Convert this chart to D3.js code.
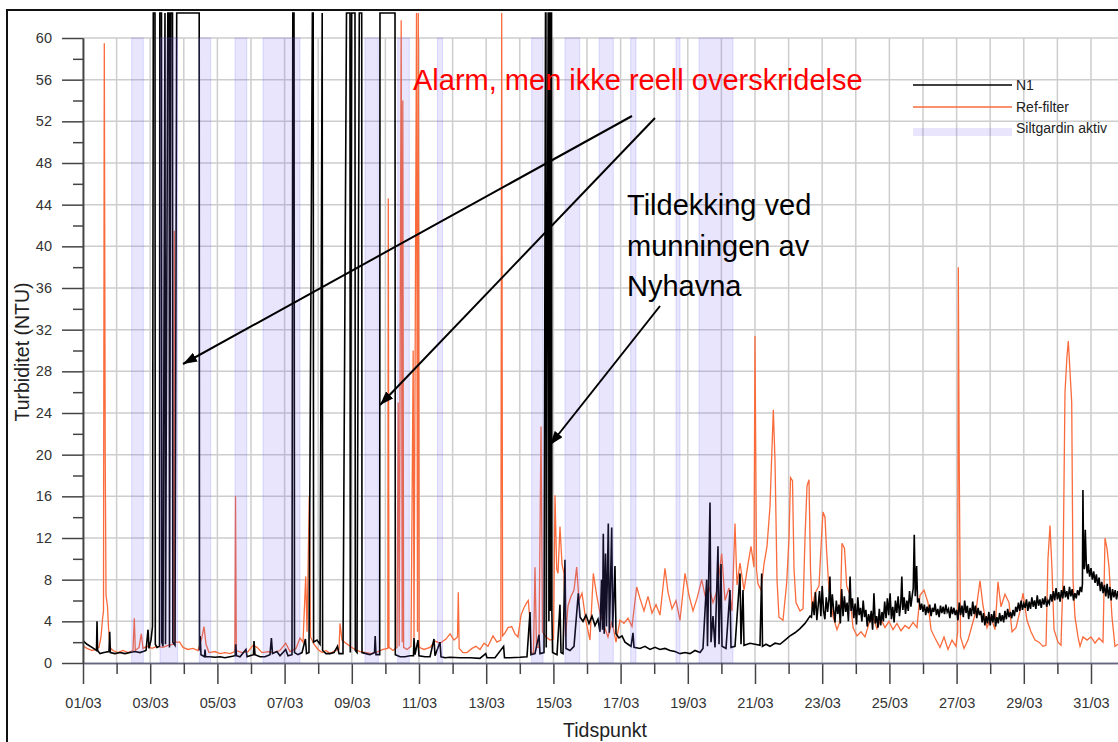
<!DOCTYPE html>
<html lang="no">
<head>
<meta charset="UTF-8">
<title>Turbiditet N1 / Ref-filter, mars</title>
<script src="https://cdnjs.cloudflare.com/ajax/libs/d3/7.8.5/d3.min.js"></script>
<style>
body { margin: 0; background: #fff; }
svg { display: block; font-family: "Liberation Sans", Arial, sans-serif; }
.axis text { font-size: 14.5px; fill: #333; }
.axis path, .axis line { stroke: #444; stroke-width: 1.5; }
.xaxis path { stroke: #66667f; }
.grid line { stroke: #cdcdcd; stroke-width: 1.5; }
</style>
</head>
<body>
<svg id="chart" width="1118" height="742"></svg>
<script>
// tick values (day of March) and turbidity ticks
const majorDays = [1, 3, 5, 7, 9, 11, 13, 15, 17, 19, 21, 23, 25, 27, 29, 31];
const minorDays = [2, 4, 6, 8, 10, 12, 14, 16, 18, 20, 22, 24, 26, 28, 30, 32];
const yMajor = [0, 4, 8, 12, 16, 20, 24, 28, 32, 36, 40, 44, 48, 52, 56, 60];
const yMinor = [2, 6, 10, 14, 18, 22, 26, 30, 34, 38, 42, 46, 50, 54, 58];

// periods with siltgardin active [start day, end day]
const siltgardin = [[2.449, 2.795], [3.292, 3.815], [4.461, 4.80], [5.524, 5.872], [6.357, 7.458],
  [9.393, 9.789], [10.366, 10.711], [11.55, 11.70], [14.354, 14.69], [15.345, 15.78],
  [16.363, 16.783], [17.30, 17.458], [18.649, 18.768], [19.333, 20.345]];

// N1 (black), [day, NTU]; 62.4 = logger ceiling
const n1 = [
  [1.015,2.1],[1.119,1.8],[1.268,1.5],[1.357,1.3],[1.402,1.2],[1.417,4.0],[1.435,1.2],[1.506,0.9],[1.625,1.0],
  [1.774,1.1],[1.795,3.0],[1.815,1.0],[1.952,0.9],[2.101,1.0],[2.25,0.9],[2.399,1.0],[2.548,1.1],[2.696,1.0],
  [2.875,1.2],[2.935,3.2],[2.964,1.4],[3.024,2.2],[3.068,3.5],
  [3.092,62.4],[3.143,62.4],[3.152,1.8],[3.202,1.5],[3.277,1.6],[3.286,62.4],[3.336,62.4],[3.345,2.0],[3.381,1.6],
  [3.440,62.4],[3.455,1.8],[3.524,62.4],[3.565,62.4],[3.574,1.5],[3.613,62.4],[3.664,62.4],[3.673,2.0],[3.738,1.7],
  [3.789,62.4],[4.458,62.4],[4.467,1.2],[4.488,2.6],[4.512,0.8],
  [4.616,0.6],[4.631,1.3],[4.649,0.6],[4.780,0.6],[4.929,0.55],[5.077,0.6],[5.226,0.5],[5.375,0.6],[5.530,0.7],
  [5.545,1.8],[5.568,0.7],[5.673,0.6],[5.851,1.3],[5.881,0.6],[5.970,0.7],[6.074,0.8],[6.089,2.1],[6.119,0.8],
  [6.268,0.6],[6.417,0.6],[6.565,0.8],[6.607,2.4],[6.640,0.9],[6.768,1.1],[6.863,0.7],[7.033,1.3],[7.101,0.7],
  [7.220,0.8],[7.244,62.4],[7.280,62.4],[7.295,1.0],[7.399,0.8],[7.518,1.0],[7.619,2.3],[7.652,0.9],[7.726,1.0],
  [7.827,62.4],[7.851,62.4],[7.863,2.0],[7.964,2.2],[8.054,1.8],[8.119,62.4],[8.131,1.2],[8.232,0.9],[8.351,0.9],
  [8.470,1.0],[8.574,1.6],[8.619,0.9],[8.738,0.9],[8.842,62.4],[8.946,62.4],[8.955,1.0],[8.997,62.4],[9.095,62.4],
  [9.104,1.2],[9.155,1.0],[9.223,62.4],[9.295,62.4],[9.304,1.0],[9.423,0.9],[9.542,0.8],[9.676,1.0],[9.696,2.6],
  [9.720,0.8],[9.830,0.8],[9.839,62.4],[10.286,62.4],[10.295,0.8],[10.435,0.6],[10.583,0.6],[10.732,0.7],
  [10.836,0.7],[10.851,2.4],[10.881,0.8],[10.970,2.2],[11.0,0.7],[11.179,0.6],[11.328,0.6],[11.446,2.3],
  [11.476,0.7],[11.625,2.0],[11.655,0.6],[11.774,0.5],[11.923,0.55],[12.220,0.5],[12.518,0.5],[12.815,0.45],
  [12.985,0.9],[13.024,0.5],[13.262,0.5],[13.518,1.6],[13.545,0.5],[13.708,0.5],[14.006,0.55],[14.214,0.6],
  [14.304,4.9],[14.333,0.8],[14.452,0.9],[14.571,2.7],[14.601,0.9],[14.720,1.0],
  [14.765,62.4],[14.778,62.4],[14.787,1.5],[14.845,62.4],[14.858,62.4],[14.866,4.0],[14.885,62.4],[14.905,62.4],
  [14.912,5.0],[14.930,62.4],[14.945,62.4],[14.955,4.8],[14.975,1.0],
  [15.107,0.8],[15.196,5.6],[15.226,1.0],[15.286,0.9],[15.345,9.9],[15.375,1.4],[15.494,1.2],[15.613,1.6],
  [15.741,6.7],[15.792,4.4],[15.881,4.0],[15.970,4.6],[16.060,3.8],[16.149,4.5],[16.238,3.6],[16.327,4.2],
  [16.387,3.0],[16.432,8.0],[16.461,3.2],[16.485,12.4],[16.512,2.8],[16.551,10.5],[16.580,3.5],[16.634,13.4],
  [16.664,2.9],[16.699,7.5],[16.735,13.0],[16.765,3.4],[16.833,9.3],[16.863,2.8],[16.952,2.4],[17.042,2.6],
  [17.131,2.0],[17.220,1.8],[17.310,1.6],[17.369,2.9],[17.399,1.5],[17.577,1.4],[17.726,1.6],[17.875,1.3],
  [18.024,1.5],[18.173,1.3],[18.321,1.4],[18.470,1.2],[18.619,1.1],[18.768,0.9],[18.917,1.0],[19.065,0.9],
  [19.214,1.2],[19.363,1.0],[19.452,1.4],[19.562,8.0],[19.586,1.6],[19.661,15.4],[19.690,2.0],[19.750,4.5],
  [19.810,1.5],[19.899,11.2],[19.929,1.8],[19.988,9.5],[20.018,1.6],[20.137,1.4],[20.256,7.0],[20.286,1.5],
  [20.405,1.6],[20.554,8.6],[20.583,1.8],[20.643,7.0],[20.673,1.7],[20.851,1.9],[21.0,1.8],[21.149,1.7],
  [21.199,8.6],[21.223,1.6],[21.327,1.8],[21.446,1.6],[21.595,1.9],[21.744,1.8],[21.893,2.2],[22.042,2.6],
  [22.190,2.9],[22.339,3.3],[22.488,3.8],[22.637,4.5],
  [22.68,4.4],[22.72,5.9],[22.76,4.6],[22.80,6.8],[22.84,4.1],[22.88,5.5],[22.92,6.9],[22.96,4.5],[23.00,7.4],
  [23.04,5.0],[23.08,4.2],[23.12,6.3],[23.16,4.9],[23.20,6.1],[23.23,8.3],[23.26,4.4],[23.30,6.6],[23.34,5.1],
  [23.38,3.9],[23.42,6.0],[23.46,4.7],[23.50,5.6],[23.54,3.8],[23.58,7.1],[23.62,4.5],[23.66,6.4],[23.70,4.9],
  [23.74,5.8],[23.78,4.0],[23.83,8.3],[23.86,5.0],[23.90,6.2],[23.94,4.3],[23.98,5.7],[24.02,3.7],[24.06,6.3],
  [24.10,4.6],[24.14,5.3],[24.18,4.0],[24.22,6.0],[24.26,4.4],[24.30,5.1],[24.34,3.5],[24.38,4.7],[24.42,3.9],
  [24.46,5.0],[24.50,3.2],[24.54,6.7],[24.58,3.8],[24.62,4.5],[24.66,3.4],[24.70,5.2],[24.74,3.6],[24.78,4.9],
  [24.82,4.0],[24.86,5.9],[24.90,4.3],[24.94,6.2],[24.98,4.6],[25.02,6.7],[25.06,4.2],[25.10,5.4],[25.14,3.9],
  [25.18,6.0],[25.22,4.8],[25.26,6.4],[25.30,4.5],[25.34,5.8],[25.37,8.3],[25.40,5.1],[25.44,6.3],[25.48,4.7],
  [25.52,6.0],[25.56,5.0],[25.60,6.9],[25.64,5.4],[25.68,6.5],[25.71,7.2],[25.74,12.3],[25.77,6.4],[25.81,9.3],
  [25.84,5.8],[25.88,6.2],[25.92,5.1],[25.96,5.7],[26.00,4.9],[26.04,5.6],[26.08,4.6],[26.12,5.4],[26.16,4.8],
  [26.20,5.6],[26.24,4.5],[26.28,5.3],[26.32,4.9],[26.36,5.7],[26.40,4.6],[26.44,5.2],[26.48,4.4],[26.52,5.5],
  [26.56,4.8],[26.60,5.4],[26.64,4.7],[26.68,5.6],[26.72,4.9],[26.76,5.2],[26.80,4.3],[26.84,5.4],[26.88,4.7],
  [26.92,5.3],[26.96,4.6],[27.00,5.1],[27.04,4.1],[27.08,5.8],[27.12,4.6],[27.16,5.5],[27.20,4.4],[27.24,6.0],
  [27.28,4.8],[27.32,5.5],[27.36,4.2],[27.40,5.3],[27.44,4.5],[27.48,5.9],[27.52,4.7],[27.56,5.5],[27.60,4.3],
  [27.64,5.3],[27.68,4.6],[27.72,5.0],[27.76,3.9],[27.80,4.8],[27.84,3.6],[27.88,4.5],[27.92,3.8],[27.96,4.9],
  [28.00,3.6],[28.04,4.7],[28.08,3.9],[28.12,5.0],[28.16,3.5],[28.20,4.4],[28.24,3.8],[28.28,4.8],[28.32,4.0],
  [28.36,4.6],[28.40,3.9],[28.44,5.0],[28.48,4.2],[28.52,5.2],[28.56,4.4],[28.60,4.9],[28.64,4.3],[28.68,5.1],
  [28.72,4.5],[28.76,5.4],[28.80,4.9],[28.84,5.8],[28.88,5.0],[28.92,6.0],[28.96,5.1],[29.00,5.7],[29.04,5.3],
  [29.08,6.1],[29.12,5.0],[29.16,5.9],[29.20,5.2],[29.24,6.3],[29.28,5.4],[29.32,6.0],[29.36,5.2],[29.40,6.5],
  [29.44,5.5],[29.48,6.1],[29.52,5.3],[29.56,6.2],[29.60,5.6],[29.64,6.4],[29.68,5.4],[29.72,6.0],[29.76,5.7],
  [29.80,6.6],[29.84,5.9],[29.88,6.9],[29.92,6.0],[29.96,7.2],[30.00,6.1],[30.04,6.8],[30.08,5.9],[30.12,7.0],
  [30.16,6.2],[30.20,7.4],[30.24,6.3],[30.28,6.9],[30.32,6.1],[30.36,7.3],[30.40,6.4],[30.44,7.1],[30.48,6.0],
  [30.52,6.7],[30.56,6.2],[30.60,7.0],[30.64,6.5],[30.68,7.3],[30.72,6.8],[30.745,7.6],[30.76,16.6],[30.78,10.0],
  [30.80,9.0],[30.83,12.8],[30.86,9.4],[30.89,8.6],[30.92,9.5],[30.96,8.3],[31.00,9.1],[31.04,8.0],[31.08,8.8],
  [31.12,7.7],[31.16,8.5],[31.20,7.4],[31.24,8.2],[31.28,6.9],[31.32,7.8],[31.36,6.7],[31.40,7.5],[31.44,6.4],
  [31.48,7.6],[31.52,6.2],[31.56,7.3],[31.60,6.0],[31.64,7.1],[31.68,6.3],[31.72,7.0],[31.76,6.1],[31.80,6.9],
  [31.84,6.5]
];

// Ref-filter (orange), [day, NTU]
const refFilter = [
  [1.015,1.6],[1.119,1.4],[1.268,1.2],[1.387,1.3],[1.476,1.5],[1.536,2.5],[1.580,4.2],[1.610,5.0],[1.634,59.5],
  [1.661,20],[1.685,6.5],[1.729,5.4],[1.759,3.4],[1.804,1.5],[1.893,1.2],[2.042,1.0],[2.190,1.2],[2.339,1.0],
  [2.488,1.2],[2.527,4.3],[2.557,1.2],[2.667,1.5],[2.735,2.8],[2.786,1.4],[2.905,1.6],[3.054,1.4],[3.202,1.6],
  [3.381,1.5],[3.530,1.7],[3.696,1.8],[3.717,41.5],[3.744,2.0],[3.878,2.0],[3.976,1.5],[4.125,1.3],[4.274,1.4],
  [4.423,1.2],[4.542,2.5],[4.601,3.5],[4.661,1.8],[4.750,1.0],[4.929,1.1],[5.077,0.9],[5.226,1.0],[5.375,0.9],
  [5.518,1.1],[5.539,16],[5.563,1.2],[5.732,1.0],[5.911,1.1],[6.060,1.7],[6.179,1.5],[6.327,1.0],[6.506,1.1],
  [6.685,1.0],[6.863,1.2],[7.033,1.9],[7.161,1.1],[7.339,1.4],[7.458,2.4],[7.548,2.0],[7.628,8.3],[7.667,3.0],
  [7.735,16],[7.771,2.5],[7.875,1.8],[7.994,1.3],[8.113,1.0],[8.232,1.2],[8.351,0.9],[8.5,1.2],[8.619,1.3],
  [8.649,3.8],[8.708,2.2],[8.827,1.9],[8.946,1.6],[9.095,1.3],[9.244,1.1],[9.423,1.0],[9.601,0.9],[9.780,1.1],
  [9.929,1.3],[10.071,1.4],[10.086,44.6],[10.107,1.5],[10.226,1.2],[10.345,1.5],[10.381,25],[10.411,1.6],
  [10.470,61.7],[10.500,2.0],[10.518,54],[10.542,1.5],[10.643,1.3],[10.762,1.6],[10.827,30],[10.851,2.4],
  [10.926,62.4],[10.955,3.0],[10.979,62.4],[11.006,1.5],[11.149,1.3],[11.327,1.5],[11.476,2.1],[11.625,1.9],
  [11.804,2.3],[11.923,2.8],[12.042,2.2],[12.146,2.5],[12.170,6.8],[12.196,1.4],[12.310,1.0],[12.429,1.0],
  [12.577,1.4],[12.696,1.6],[12.815,1.3],[12.935,1.9],[13.054,1.6],[13.202,2.6],[13.321,2.0],[13.435,2.2],
  [13.461,62.4],[13.488,2.6],[13.560,2.9],[13.649,3.4],[13.759,3.5],[13.857,2.8],[13.946,2.5],[14.036,4.6],
  [14.125,5.3],[14.205,5.8],[14.253,6.0],[14.304,4.0],[14.333,0.9],[14.408,1.0],[14.452,9.2],[14.497,1.5],
  [14.571,1.5],[14.631,22.7],[14.676,3.0],[14.780,2.5],[14.899,2.2],[15.003,2.3],[15.048,16.1],[15.098,9.0],
  [15.137,8.6],[15.196,13.1],[15.256,9.5],[15.315,8.6],[15.360,2.5],[15.435,5.5],[15.524,6.4],[15.613,7.0],
  [15.693,9.2],[15.762,6.0],[15.851,6.7],[15.970,4.0],[16.089,2.2],[16.188,8.6],[16.289,6.5],[16.387,4.8],
  [16.506,3.6],[16.625,2.5],[16.744,4.0],[16.863,2.0],[16.982,4.1],[17.101,3.8],[17.220,4.3],[17.339,3.5],
  [17.479,7.3],[17.577,6.2],[17.696,5.0],[17.815,6.4],[17.934,4.8],[18.054,5.6],[18.173,4.6],[18.321,9.1],
  [18.411,6.8],[18.530,5.2],[18.649,6.0],[18.768,4.1],[18.917,8.6],[19.036,6.5],[19.155,5.0],[19.274,6.2],
  [19.414,8.0],[19.512,6.5],[19.631,7.3],[19.750,5.8],[19.869,6.9],[20.009,10.5],[20.107,6.0],[20.226,7.2],
  [20.315,5.0],[20.405,13.4],[20.464,7.5],[20.554,9.6],[20.673,7.0],[20.792,9.5],[20.881,11.2],[20.970,9.2],
  [21.0,31.4],[21.045,9.0],[21.089,7.6],[21.179,7.0],[21.268,9.5],[21.357,11.2],[21.446,15.0],[21.545,24.3],
  [21.595,19.5],[21.655,8.0],[21.714,4.4],[21.833,4.1],[21.943,7.7],[22.012,12],[22.057,17.8],[22.116,17.5],
  [22.161,9],[22.220,5.8],[22.339,5.0],[22.429,5.2],[22.488,12],[22.548,17.0],[22.607,17.6],[22.652,9],
  [22.696,5.2],[22.786,6.7],[22.905,7.4],[22.979,12],[23.024,14.5],[23.083,14.0],[23.134,10.6],[23.202,7.0],
  [23.321,4.5],[23.440,3.2],[23.530,4.0],[23.589,11.5],[23.664,11.0],[23.729,7.4],[23.827,6.5],[23.917,3.4],
  [24.036,2.6],[24.155,3.0],[24.274,2.5],[24.393,3.8],[24.512,4.4],[24.631,3.3],[24.750,4.2],[24.869,3.4],
  [24.988,4.0],[25.107,3.2],[25.226,3.8],[25.345,3.1],[25.464,3.6],[25.583,3.3],[25.702,3.9],[25.821,3.4],
  [25.911,6.5],[26.030,7.0],[26.149,5.8],[26.238,3.2],[26.357,2.4],[26.506,1.5],[26.625,2.5],[26.744,1.3],
  [26.863,2.2],[26.982,1.6],[27.033,3.0],[27.051,38],[27.077,20],[27.116,2.5],[27.220,1.4],[27.339,2.2],
  [27.458,3.6],[27.577,5.0],[27.696,7.9],[27.786,5.5],[27.905,3.4],[28.024,4.4],[28.143,3.2],[28.232,7.8],
  [28.321,5.4],[28.440,6.6],[28.560,5.8],[28.649,3.0],[28.768,3.4],[28.887,5.0],[28.976,6.7],[29.095,4.1],
  [29.214,3.0],[29.333,2.2],[29.452,2.0],[29.571,1.6],[29.661,1.7],[29.720,10],[29.780,13.2],[29.839,9],
  [29.899,3.2],[30.018,2.0],[30.107,1.7],[30.167,8.3],[30.226,26],[30.286,29.5],[30.325,30.9],[30.375,28],
  [30.426,25],[30.464,8],[30.524,4.4],[30.613,2.5],[30.673,1.6],[30.762,2.5],[30.881,2.2],[31.0,2.5],
  [31.119,1.9],[31.238,2.4],[31.357,2.0],[31.417,12],[31.476,11],[31.536,9.2],[31.625,4.4],[31.714,1.6],[31.804,1.8]
];

const svg = d3.select("#chart");

const x = d3.scaleLinear().domain([1, 32]).range([83, 1124.6]);
const y = d3.scaleLinear().domain([0, 60]).range([663, 38]);

// outer frame
svg.append("rect")
  .attr("x", 7).attr("y", 10)
  .attr("width", 1200).attr("height", 800)
  .attr("fill", "none").attr("stroke", "#111").attr("stroke-width", 2);

// grid
const grid = svg.append("g").attr("class", "grid");
grid.selectAll(".vg")
  .data(majorDays.concat(minorDays))
  .enter().append("line")
  .attr("x1", d => x(d)).attr("x2", d => x(d))
  .attr("y1", y(60)).attr("y2", y(0));
grid.selectAll(".hg")
  .data(yMajor.filter(d => d > 0))
  .enter().append("line")
  .attr("x1", x(1)).attr("x2", 1118)
  .attr("y1", d => y(d)).attr("y2", d => y(d));

// series
const line = d3.line().x(d => x(d[0])).y(d => y(d[1]));

svg.append("path")
  .datum(refFilter)
  .attr("d", line)
  .attr("fill", "none")
  .attr("stroke", "#fa6b3c")
  .attr("stroke-width", 1.3);

svg.append("path")
  .datum(n1)
  .attr("d", line)
  .attr("fill", "none")
  .attr("stroke", "#000")
  .attr("stroke-width", 1.6);

// siltgardin bands, translucent over the lines
svg.selectAll(".band")
  .data(siltgardin)
  .enter().append("rect")
  .attr("x", d => x(d[0]))
  .attr("width", d => x(d[1]) - x(d[0]))
  .attr("y", y(60))
  .attr("height", y(0) - y(60))
  .attr("fill", "rgba(110,95,235,0.16)")
  .attr("stroke", "rgba(110,110,255,0.22)")
  .attr("stroke-width", 1);

// axes
const fmtDay = d => (d < 10 ? "0" + d : "" + d) + "/03";

svg.append("g")
  .attr("class", "axis xaxis")
  .attr("transform", "translate(0," + y(0) + ")")
  .call(d3.axisBottom(x).tickValues(majorDays).tickSize(21).tickSizeOuter(0)
    .tickPadding(14).tickFormat(fmtDay));
svg.append("g")
  .attr("class", "axis xaxis")
  .attr("transform", "translate(0," + y(0) + ")")
  .call(d3.axisBottom(x).tickValues(minorDays).tickSize(11).tickSizeOuter(0).tickFormat(""));

svg.append("g")
  .attr("class", "axis")
  .attr("transform", "translate(" + x(1) + ",0)")
  .call(d3.axisLeft(y).tickValues(yMajor).tickSize(21).tickSizeOuter(0).tickPadding(10));
svg.append("g")
  .attr("class", "axis")
  .attr("transform", "translate(" + x(1) + ",0)")
  .call(d3.axisLeft(y).tickValues(yMinor).tickSize(10).tickSizeOuter(0).tickFormat(""));

svg.selectAll(".axis .domain").attr("stroke-width", 1.5);

// axis titles
svg.append("text")
  .attr("x", 605).attr("y", 737)
  .attr("text-anchor", "middle")
  .style("font-size", "19.5px").style("fill", "#222")
  .text("Tidspunkt");

svg.append("text")
  .attr("transform", "translate(29,352) rotate(-90)")
  .attr("text-anchor", "middle")
  .style("font-size", "19.5px").style("fill", "#222")
  .text("Turbiditet (NTU)");

// legend
const legend = svg.append("g").attr("transform", "translate(913,0)");
legend.append("line").attr("x1", 0).attr("x2", 99).attr("y1", 85).attr("y2", 85)
  .attr("stroke", "#000").attr("stroke-width", 1.3);
legend.append("line").attr("x1", 0).attr("x2", 99).attr("y1", 107).attr("y2", 107)
  .attr("stroke", "#fa6b3c").attr("stroke-width", 1.3);
legend.append("rect").attr("x", 0).attr("y", 128).attr("width", 99).attr("height", 8)
  .attr("fill", "rgba(110,95,235,0.16)");
[["N1", 90], ["Ref-filter", 111.5], ["Siltgardin aktiv", 132.5]].forEach(l => {
  legend.append("text").attr("x", 103).attr("y", l[1])
    .style("font-size", "14px").style("fill", "#222").text(l[0]);
});

// annotations
svg.append("defs").append("marker")
  .attr("id", "arrow")
  .attr("viewBox", "0 0 14 10")
  .attr("refX", 14).attr("refY", 5)
  .attr("markerWidth", 14).attr("markerHeight", 10)
  .attr("markerUnits", "userSpaceOnUse")
  .attr("orient", "auto")
  .append("path").attr("d", "M0,0 L14,5 L0,10 Z").attr("fill", "#000");

const arrows = [[632, 116, 183, 364], [655, 118, 380, 405], [660, 306, 550, 445]];
svg.selectAll(".arrow")
  .data(arrows)
  .enter().append("line")
  .attr("x1", d => d[0]).attr("y1", d => d[1])
  .attr("x2", d => d[2]).attr("y2", d => d[3])
  .attr("stroke", "#000").attr("stroke-width", 2)
  .attr("marker-end", "url(#arrow)");

svg.append("text")
  .attr("x", 413).attr("y", 90)
  .style("font-size", "29px").style("fill", "#ff0000")
  .text("Alarm, men ikke reell overskridelse");

const note = svg.append("text")
  .attr("x", 627).attr("y", 215)
  .style("font-size", "29px").style("fill", "#000");
["Tildekking ved", "munningen av", "Nyhavna"].forEach((t, i) => {
  note.append("tspan").attr("x", 627).attr("dy", i === 0 ? 0 : 40.5).text(t);
});
</script>
</body>
</html>
